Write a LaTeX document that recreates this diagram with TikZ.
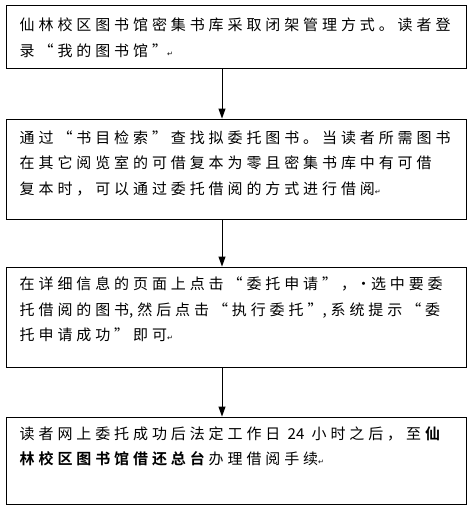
\documentclass[tikz,border=0pt]{standalone}
\usepackage{fontspec}
\newfontfamily\cjk{Noto Sans CJK SC}[LetterSpace=26, BoldFont={Noto Sans CJK SC Bold}]
\newfontfamily\cjktight{Noto Sans CJK SC}
\newfontfamily\symfont{DejaVu Sans}
\usepackage{tikz}
\usetikzlibrary{positioning, arrows.meta}
\newcommand{\pmark}{{\symfont\fontsize{7}{7}\selectfont ↵}}
\newcommand{\hcomma}{{\cjktight,}\hspace{4pt}}

\begin{document}
\begin{tikzpicture}[x=1pt, y=-1pt,
  stepbox/.style={draw, line width=0.9pt, minimum width=460pt, inner sep=0pt},
  steptext/.style={align=left, inner sep=0pt, font=\cjk\fontsize{15}{25.5}\selectfont},
  flow/.style={-{Triangle[length=10pt, width=7pt]}, line width=0.9pt}]
  \useasboundingbox (0,0) rectangle (473,509);
  % boxes
  \node[stepbox, minimum height=63pt] (b1) at (236,36.5) {};
  \node[stepbox, minimum height=100pt] (b2) at (236,169) {};
  \node[stepbox, minimum height=100pt] (b3) at (236,317) {};
  \node[stepbox, minimum height=87pt] (b4) at (236,460.5) {};
  % texts
  \node[steptext, below right=13pt and 14pt of b1.north west] (t1)
    {仙林校区图书馆密集书库采取闭架管理方式。读者登\\
     录“我的图书馆”\pmark};
  \node[steptext, below right=12pt and 14pt of b2.north west] (t2)
    {通过“书目检索”查找拟委托图书。当读者所需图书\\
     在其它阅览室的可借复本为零且密集书库中有可借\\
     复本时，可以通过委托借阅的方式进行借阅\pmark};
  \node[steptext, below right=10pt and 14pt of b3.north west] (t3)
    {在详细信息的页面上点击“委托申请”，{\cjktight·}选中要委\\
     托借阅的图书\hcomma 然后点击“执行委托”\hcomma 系统提示“委\\
     托申请成功”即可\pmark};
  \node[steptext, below right=10pt and 14pt of b4.north west] (t4)
    {读者网上委托成功后法定工作日 {\cjktight 24} 小时之后，至\textbf{仙}\\
     \textbf{林校区图书馆借还总台}办理借阅手续\pmark};
  % arrows
  \coordinate (ax) at (222,0);
  \draw[flow] (b1.south -| ax) -- (b2.north -| ax);
  \draw[flow] (b2.south -| ax) -- (b3.north -| ax);
  \draw[flow] (b3.south -| ax) -- (b4.north -| ax);
\end{tikzpicture}
\end{document}
